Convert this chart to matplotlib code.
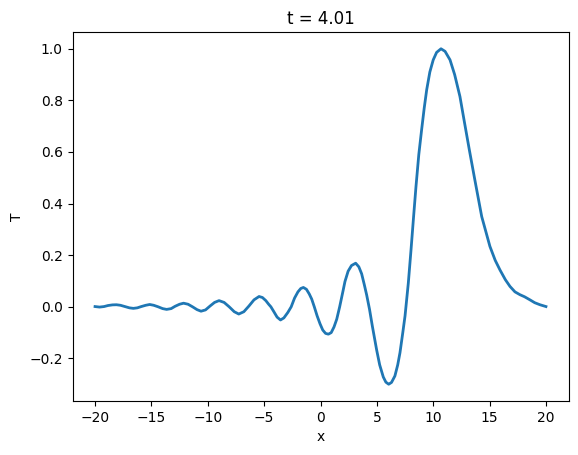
import matplotlib
matplotlib.use('Agg')
import matplotlib.pyplot as plt

# values at t = 4.01
x = [-20.0, -19.6, -19.2, -18.85, -18.45, -18.1, -17.75, -17.35, -16.95, -16.6,
     -16.25, -15.9, -15.5, -15.15, -14.8, -14.4, -14.0, -13.65, -13.25, -12.9,
     -12.5, -12.15, -11.75, -11.35, -10.95, -10.6, -10.2, -9.8, -9.4, -9.0,
     -8.55, -8.1, -7.65, -7.25, -6.8, -6.35, -5.9, -5.45, -5.15, -4.85,
     -4.6, -4.4, -4.15, -3.85, -3.55, -3.25, -2.9, -2.6, -2.3, -2.0,
     -1.75, -1.52, -1.25, -1.0, -0.78, -0.55, -0.3, -0.04, 0.2, 0.45,
     0.7, 0.95, 1.2, 1.44, 1.7, 2.0, 2.17, 2.45, 2.75, 3.12,
     3.4, 3.65, 3.89, 4.1, 4.35, 4.6, 4.98, 5.25, 5.57, 5.8,
     6.05, 6.3, 6.6, 6.85, 7.05, 7.3, 7.5, 7.79, 8.03, 8.25,
     8.47, 8.72, 8.97, 9.2, 9.42, 9.7, 10.0, 10.3, 10.69, 11.05,
     11.49, 11.9, 12.37, 12.75, 13.2, 13.7, 14.3, 15.03, 15.5, 15.92,
     16.4, 16.81, 17.25, 17.69, 18.1, 18.58, 19.0, 19.47, 20.0]
T = [0.001, -0.001, 0.001, 0.005, 0.0075, 0.008, 0.006, 0.001, -0.004, -0.006,
     -0.004, 0.001, 0.006, 0.009, 0.006, 0.0, -0.007, -0.010, -0.007, 0.002,
     0.010, 0.014, 0.010, 0.0, -0.011, -0.017, -0.012, 0.003, 0.017, 0.024,
     0.017, 0.0, -0.019, -0.028, -0.019, 0.003, 0.027, 0.040, 0.036, 0.024,
     0.010, 0.0, -0.018, -0.040, -0.051, -0.043, -0.022, 0.0, 0.034, 0.058,
     0.071, 0.075, 0.068, 0.050, 0.030, 0.0, -0.035, -0.066, -0.090, -0.103,
     -0.106, -0.100, -0.078, -0.048, 0.0, 0.062, 0.098, 0.138, 0.160, 0.169,
     0.155, 0.128, 0.085, 0.045, -0.010, -0.075, -0.167, -0.225, -0.272, -0.292,
     -0.300, -0.293, -0.268, -0.225, -0.178, -0.100, -0.035, 0.092, 0.221, 0.345,
     0.466, 0.590, 0.686, 0.770, 0.841, 0.910, 0.957, 0.986, 1.000, 0.990,
     0.957, 0.900, 0.815, 0.720, 0.609, 0.490, 0.350, 0.234, 0.180, 0.143,
     0.105, 0.079, 0.058, 0.047, 0.039, 0.027, 0.016, 0.008, 0.001]

fig = plt.figure(figsize=(5.78, 4.55), dpi=100)
ax = fig.add_axes([72.5 / 578, (455 - 401) / 455, 496 / 578, 369 / 455])
ax.plot(x, T, lw=2)
ax.set_xlabel('x')
ax.set_ylabel('T')
ax.set_title('t = 4.01')
fig.savefig('out.png', dpi=100)
